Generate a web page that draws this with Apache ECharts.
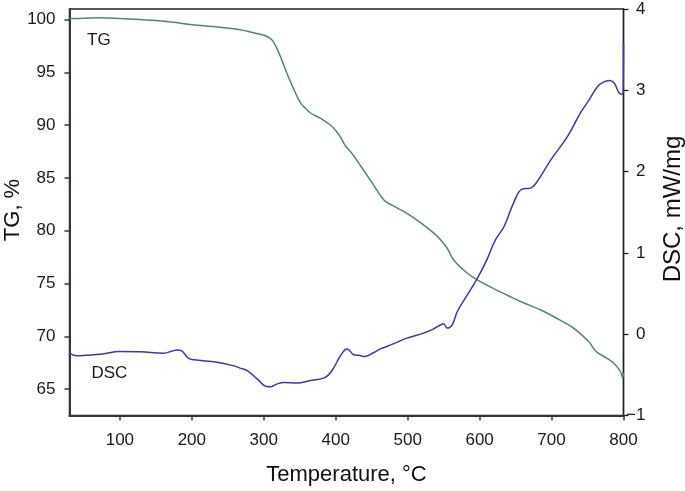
<!DOCTYPE html>
<html>
<head>
<meta charset="utf-8">
<script src="https://cdn.jsdelivr.net/npm/echarts@6/dist/echarts.min.js"></script>
<style>html,body{margin:0;padding:0;background:#fff;}#c{width:685px;height:491px;}</style>
</head>
<body>
<div id="c"></div>
<script>
// Temperature (°C) and TG (%) readings
const tgTemp = [30,50,73,100,128,150,174,190,212,235,258,270,281,295,304,310,313,318,323,332,342,351,358,365,379,392,400,406,413,424,434,450,467,476,495,513,536,546,555,564,583,601,620,638,660,685,710,731,752,758,763,775,787,796,799,800];
const tgValue = [100.09,100.12,100.16,100.1,100.0,99.9,99.74,99.6,99.43,99.3,99.12,99.0,98.83,98.6,98.42,98.15,97.94,97.3,96.52,94.94,93.36,92.1,91.6,91.15,90.64,90.04,89.5,88.93,88.1,87.2,86.2,84.6,82.9,82.5,81.8,81.0,79.8,79.13,78.34,77.23,75.97,75.17,74.5,73.91,73.2,72.49,71.6,70.75,69.48,68.9,68.5,68.0,67.43,66.63,66.1,66.5];
// Temperature (°C) and DSC (mW/mg) readings
const dscTemp = [30,40,54,73,100,128,161,172,179,186,195,203,235,258,268,277,291,304,310,318,328,346,365,383,390,397,406,413,416,420,425,432,441,453,462,471,485,499,510,522,535,546,550,555,562,569,583,597,610,622,634,647,659,671,680,699,722,740,752,764,772,780,787,794,799.5,800];
const dscValue = [-0.233,-0.266,-0.258,-0.246,-0.214,-0.217,-0.233,-0.21,-0.193,-0.206,-0.294,-0.315,-0.344,-0.389,-0.42,-0.447,-0.552,-0.643,-0.645,-0.614,-0.594,-0.601,-0.569,-0.54,-0.5,-0.417,-0.274,-0.19,-0.183,-0.21,-0.253,-0.26,-0.274,-0.225,-0.18,-0.151,-0.1,-0.048,-0.02,0.013,0.06,0.116,0.128,0.075,0.116,0.279,0.485,0.69,0.915,1.16,1.325,1.61,1.785,1.797,1.878,2.145,2.43,2.72,2.88,3.047,3.1,3.12,3.09,2.966,2.95,3.58];
// Tick labels
const xTicks = [100,200,300,400,500,600,700,800];
const tgTicks = [65,70,75,80,85,90,95,100];
const dscTicks = [-1,0,1,2,3,4];

const FONT = "Liberation Sans, Arial, sans-serif";
const AX = '#3d3434';
const chart = echarts.init(document.getElementById('c'), null, {renderer: 'canvas'});
chart.setOption({
  animation: false,
  backgroundColor: '#fff',
  grid: {left: 69.5, right: 61.5, top: 9, bottom: 75.5, show: true, borderColor: '#222', borderWidth: 1.5, backgroundColor: 'transparent'},
  xAxis: {
    type: 'value', min: 30, max: 800,
    axisLine: {show: true, onZero: false, lineStyle: {color: AX, width: 2}},
    axisTick: {show: true, length: 5, lineStyle: {color: AX, width: 1.5}, customValues: xTicks},
    axisLabel: {customValues: xTicks, fontSize: 17, fontFamily: FONT, color: '#1a1a1a', margin: 16},
    splitLine: {show: false}
  },
  yAxis: [{
    type: 'value', min: 62.5, max: 101, position: 'left',
    axisLine: {show: true, onZero: false, lineStyle: {color: AX, width: 2}},
    axisTick: {show: true, length: 5, lineStyle: {color: AX, width: 1.5}, customValues: tgTicks},
    axisLabel: {customValues: tgTicks, fontSize: 17, fontFamily: FONT, color: '#1a1a1a', margin: 14},
    splitLine: {show: false}
  }, {
    type: 'value', min: -1, max: 4, interval: 1, position: 'right',
    axisLine: {show: true, onZero: false, lineStyle: {color: '#222', width: 1.3}},
    axisTick: {show: true, length: 5, lineStyle: {color: '#222', width: 1.3}},
    axisLabel: {fontSize: 17, fontFamily: FONT, color: '#1a1a1a', margin: 22, align: 'right',
      formatter: v => (v < 0 ? '\u2212' + Math.abs(v) : String(v))},
    splitLine: {show: false}
  }],
  series: [{
    name: 'TG', type: 'line', yAxisIndex: 0, showSymbol: false, smooth: 0.4,
    lineStyle: {color: '#4e8b62', width: 1.5},
    data: tgTemp.map((t, i) => [t, tgValue[i]])
  }, {
    name: 'DSC', type: 'line', yAxisIndex: 1, showSymbol: false, smooth: 0.4,
    lineStyle: {color: '#3b39ad', width: 1.5},
    data: dscTemp.map((t, i) => [t, dscValue[i]])
  }],
  graphic: [
    {type: 'text', style: {text: 'TG', x: 87, y: 40, fontSize: 17, fontFamily: FONT, fill: '#1a1a1a', verticalAlign: 'middle', align: 'left'}},
    {type: 'text', style: {text: 'DSC', x: 91.5, y: 373.5, fontSize: 17, fontFamily: FONT, fill: '#1a1a1a', verticalAlign: 'middle', align: 'left'}},
    {type: 'text', style: {text: 'Temperature, °C', x: 346.5, y: 474.5, fontSize: 22, fontFamily: FONT, fill: '#111', verticalAlign: 'middle', align: 'center'}},
    {type: 'text', x: 12.5, y: 210, rotation: Math.PI / 2, style: {text: 'TG, %', x: 0, y: 0, fontSize: 22, fontFamily: FONT, fill: '#111', verticalAlign: 'middle', align: 'center'}},
    {type: 'text', x: 673, y: 209, rotation: Math.PI / 2, style: {text: 'DSC, mW/mg', x: 0, y: 0, fontSize: 24, fontFamily: FONT, fill: '#111', verticalAlign: 'middle', align: 'center'}}
  ]
});
</script>
</body>
</html>
